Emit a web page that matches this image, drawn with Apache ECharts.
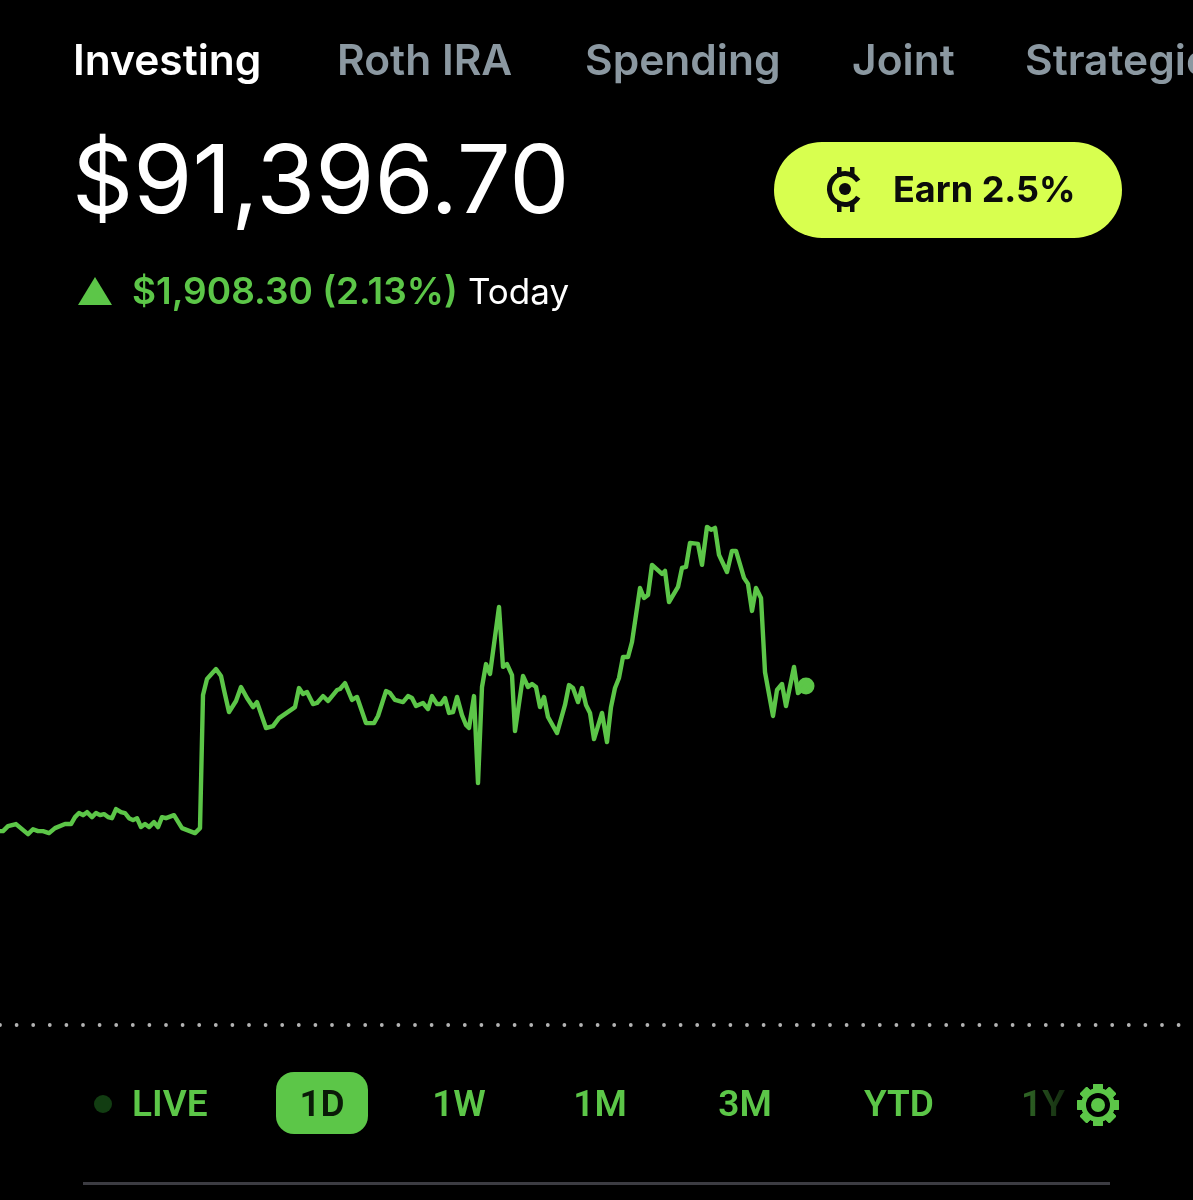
<!DOCTYPE html>
<html>
<head>
<meta charset="utf-8">
<title>Investing</title>
<style>
html, body { margin: 0; padding: 0; background: #000; }
#chart { width: 1193px; height: 1200px; }
</style>
<script src="https://cdn.jsdelivr.net/npm/echarts@6/dist/echarts.min.js"></script>
</head>
<body>
<div id="chart"></div>
<script>
// position along the trading day, one row per ten samples
var times = [
    0, 3, 8, 16, 22, 28, 33, 38, 43, 49,
    55, 65, 71, 75, 79, 83, 87, 92, 96, 100,
    104, 108, 112, 116, 121, 125, 129, 133, 137, 141,
    145, 149, 154, 158, 162, 166, 174, 182, 195, 200,
    203, 207, 216, 221, 224, 229, 236, 241, 247, 253,
    257, 266, 273, 279, 295, 299, 303, 307, 313, 317,
    323, 328, 337, 340, 345, 352, 357, 366, 374, 378,
    386, 390, 395, 403, 408, 412, 416, 423, 428, 432,
    437, 441, 445, 449, 453, 457, 462, 466, 469, 474,
    478, 482, 486, 490, 499, 503, 507, 512, 515, 523,
    528, 532, 536, 540, 544, 548, 557, 565, 569, 573,
    578, 582, 586, 590, 594, 602, 607, 611, 615, 619,
    623, 628, 632, 640, 644, 648, 652, 662, 665, 669,
    678, 682, 686, 690, 698, 702, 707, 711, 715, 719,
    727, 732, 736, 744, 748, 752, 756, 761, 765, 773,
    777, 782, 786, 794, 798, 806
];
// account value in dollars
var values = [
    90580, 90580, 90608, 90620, 90591, 90563, 90591, 90580, 90580, 90569,
    90597, 90620, 90620, 90659, 90682, 90670, 90687, 90659, 90682, 90670,
    90676, 90659, 90653, 90704, 90687, 90682, 90653, 90642, 90653, 90603,
    90620, 90603, 90631, 90603, 90659, 90653, 90670, 90597, 90569, 90597,
    91346, 91436, 91492, 91453, 91374, 91250, 91312, 91391, 91329, 91278,
    91306, 91160, 91171, 91216, 91278, 91385, 91352, 91363, 91295, 91301,
    91340, 91312, 91374, 91380, 91413, 91318, 91335, 91188, 91188, 91228,
    91368, 91357, 91318, 91306, 91340, 91329, 91284, 91301, 91267, 91340,
    91295, 91295, 91329, 91245, 91250, 91335, 91233, 91177, 91160, 91340,
    90850, 91391, 91520, 91464, 91841, 91504, 91520, 91458, 91143, 91453,
    91391, 91408, 91391, 91278, 91335, 91222, 91132, 91290, 91402, 91385,
    91306, 91385, 91290, 91245, 91098, 91245, 91081, 91278, 91385, 91442,
    91560, 91560, 91644, 91948, 91892, 91909, 92078, 92027, 92044, 91869,
    91954, 92061, 92067, 92202, 92196, 92078, 92292, 92275, 92286, 92134,
    92038, 92157, 92157, 92005, 91971, 91819, 91948, 91892, 91475, 91228,
    91374, 91408, 91284, 91504, 91357, 91396.70
];
var previousClose = 89488.40;

var tabs = ['Investing', 'Roth IRA', 'Spending', 'Joint', 'Strategies'];
var ranges = ['LIVE', '1D', '1W', '1M', '3M', 'YTD', '1Y'];

var green = '#5cc648';
var grey = '#8b98a1';
var lime = '#d8ff4f';
var font = 'Inter';

function text(str, x, y, size, weight, fill, align, family) {
    return {
        type: 'text', x: x, y: y, z: 10,
        style: {
            text: str, fontSize: size, fontWeight: weight, fontFamily: family || font,
            fill: fill, align: align || 'left', verticalAlign: 'middle'
        }
    };
}

var tabX = [73, 337, 585, 852, 1025];
var rangeX = [132, 322, 459, 600, 745, 899, 1043];

var graphics = [];
tabs.forEach(function (t, i) {
    graphics.push(text(t, tabX[i], 62, 42.5, 600, i === 0 ? '#fff' : grey));
});
graphics.push(text('$91,396.70', 72, 184, 95.5, 400, '#fff'));
graphics.push(text('$1,908.30 (2.13%)', 132, 293, 37, 600, green));
graphics.push(text('Today', 468, 293, 35, 400, '#fff'));
graphics.push({ type: 'polygon', z: 10, shape: { points: [[78, 305], [112, 305], [95, 277]] }, style: { fill: green } });

// earn button
graphics.push({ type: 'rect', z: 9, shape: { x: 774, y: 142, width: 348, height: 96, r: 48 }, style: { fill: lime } });
graphics.push(text('Earn 2.5%', 893, 191, 36, 700, '#0b0b0b'));
graphics.push({
    type: 'arc', z: 10,
    shape: { cx: 845, cy: 189, r: 15.5, startAngle: 0.55, endAngle: Math.PI * 2 - 0.55, clockwise: true },
    style: { fill: null, stroke: '#0b0b0b', lineWidth: 5 }
});
graphics.push({ type: 'circle', z: 10, shape: { cx: 845, cy: 189, r: 6 }, style: { fill: '#0b0b0b' } });
[[837, 167], [850, 167], [837, 202], [850, 202]].forEach(function (p) {
    graphics.push({ type: 'rect', z: 10, shape: { x: p[0], y: p[1], width: 4.5, height: 10 }, style: { fill: '#0b0b0b' } });
});

// range selector
graphics.push({ type: 'circle', z: 10, shape: { cx: 103, cy: 1104, r: 9 }, style: { fill: '#123d12' } });
graphics.push({ type: 'rect', z: 9, shape: { x: 276, y: 1072, width: 92, height: 62, r: 18 }, style: { fill: green } });
ranges.forEach(function (r, i) {
    var c = r === '1D' ? '#0a1a08' : green;
    graphics.push(text(r, rangeX[i], 1107, 37, 600, c, i === 0 ? 'left' : 'center', 'Roboto'));
});
// 1Y fades out under the gear
graphics.push({
    type: 'rect', z: 11, shape: { x: 1020, y: 1085, width: 46, height: 40 },
    style: {
        fill: new echarts.graphic.LinearGradient(0, 0, 1, 0, [
            { offset: 0, color: 'rgba(0,0,0,0.45)' },
            { offset: 1, color: 'rgba(0,0,0,0.8)' }
        ])
    }
});

// gear
for (var i = 0; i < 8; i++) {
    graphics.push({
        type: 'rect', z: 10, x: 1098, y: 1105, rotation: i * Math.PI / 4,
        shape: { x: -5, y: -21, width: 10, height: 42, r: 1 },
        style: { fill: green }
    });
}
graphics.push({ type: 'circle', z: 10, shape: { cx: 1098, cy: 1105, r: 17 }, style: { fill: green } });
graphics.push({ type: 'circle', z: 11, shape: { cx: 1098, cy: 1105, r: 12 }, style: { fill: '#000' } });
graphics.push({ type: 'circle', z: 12, shape: { cx: 1098, cy: 1105, r: 7 }, style: { fill: green } });

graphics.push({ type: 'rect', z: 10, shape: { x: 83, y: 1182, width: 1027, height: 3 }, style: { fill: '#3c3c42' } });

var lineData = times.map(function (t, i) {
    return [t, values[i]];
});

var myChart = echarts.init(document.getElementById('chart'));
myChart.setOption({
    backgroundColor: '#000',
    animation: false,
    grid: { left: 0, right: 0, top: 401, bottom: 88 },
    xAxis: { type: 'value', min: 0, max: 1193, show: false },
    yAxis: { type: 'value', min: 89000, max: 93000, show: false },
    graphic: graphics,
    series: [{
        type: 'line',
        data: lineData,
        symbol: 'none',
        lineStyle: { color: green, width: 4.4, join: 'round' },
        markLine: {
            silent: true,
            symbol: 'none',
            label: { show: false },
            data: [{ yAxis: previousClose }],
            lineStyle: { color: '#b4b4b4', width: 3.8, type: [0, 16.6], cap: 'round' }
        }
    }, {
        type: 'scatter',
        data: [lineData[lineData.length - 1]],
        symbolSize: 17,
        itemStyle: { color: green, opacity: 1 }
    }]
});
</script>
</body>
</html>
